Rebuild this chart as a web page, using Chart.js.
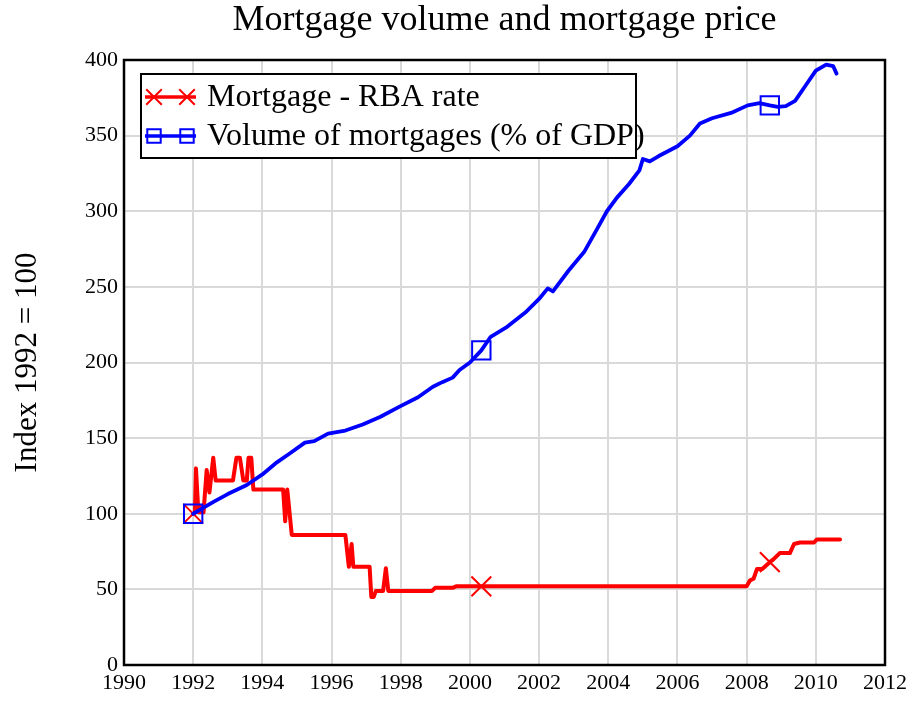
<!DOCTYPE html>
<html>
<head>
<meta charset="utf-8">
<script src="https://cdn.jsdelivr.net/npm/chart.js@4/dist/chart.umd.min.js"></script>
<style>
  html, body { margin: 0; padding: 0; background: #fff; }
  #wrap { width: 913px; height: 702px; }
</style>
</head>
<body>
<div id="wrap"><canvas id="myChart" width="913" height="702"></canvas></div>
<script>
// data (year, index 1992 = 100)
const rateYears = [1992, 1992.05, 1992.08, 1992.15, 1992.3, 1992.39, 1992.47, 1992.58, 1992.65,
  1993.15, 1993.25, 1993.35, 1993.45, 1993.55, 1993.6, 1993.68, 1993.74, 1994.6, 1994.66, 1994.72,
  1994.85, 1996.4, 1996.5, 1996.58, 1996.63, 1997.1, 1997.15, 1997.22, 1997.28, 1997.49, 1997.57,
  1997.64, 1998.9, 1999.0, 1999.5, 1999.6, 2000.33, 2008.0, 2008.1, 2008.2, 2008.3, 2008.45,
  2008.67, 2008.78, 2008.96, 2009.25, 2009.37, 2009.54, 2009.95, 2010.03, 2010.7];
const rateValues = [100, 101, 130, 101, 101, 129, 114, 137, 122,
  122, 137, 137, 122, 122, 137, 137, 116, 116, 95, 116,
  86, 86, 65, 80, 65, 65, 45, 45, 49, 49, 64,
  49, 49, 51, 51, 52, 52, 52, 56, 57, 63.5, 63.5,
  68, 70, 74, 74, 80, 81, 81, 83, 83];

const volumeYears = [1992, 1992.3, 1992.6, 1993, 1993.55, 1994, 1994.42, 1994.8, 1995.23, 1995.5,
  1995.9, 1996.4, 1996.9, 1997.4, 1997.98, 1998.5, 1998.93, 1999.2, 1999.5, 1999.7, 2000,
  2000.33, 2000.6, 2001.04, 2001.6, 2002, 2002.25, 2002.4, 2002.86, 2003.3, 2003.67, 2003.96,
  2004.25, 2004.6, 2004.9, 2005, 2005.2, 2005.46, 2006, 2006.36, 2006.65, 2007, 2007.55,
  2008.03, 2008.37, 2008.67, 2008.9, 2009.13, 2009.4, 2009.7, 2010, 2010.3, 2010.5, 2010.6];
const volumeValues = [100, 104, 108, 113, 119, 126, 134, 140, 147, 148,
  153, 155, 159, 164, 171, 177, 184, 187, 190, 195, 200,
  208, 217, 223, 233, 242, 249, 247, 261, 273, 288, 300,
  309, 318, 327, 334.5, 333, 336.5, 343, 350, 358, 361.5, 365,
  370, 371.5, 370, 369, 369.5, 373, 383, 393, 397, 396, 391];

const markerYears = [1992, 2000.33, 2008.67];

const chartTitle = 'Mortgage volume and mortgage price';
const yTitle = 'Index 1992 = 100';
const seriesNames = ['Mortgage - RBA rate', 'Volume of mortgages (% of GDP)'];

const serif = "'Liberation Serif', 'DejaVu Serif', serif";

function toPoints(xs, ys) {
  return xs.map((x, i) => ({ x: x, y: ys[i] }));
}

function markerRadius(r) {
  return function(ctx) {
    const p = ctx.raw;
    return p && markerYears.includes(p.x) ? r : 0;
  };
}

// title over the plot, frame round the plot and the boxed legend
const framePlugin = {
  id: 'frame',
  afterDraw(chart) {
    const ctx = chart.ctx;
    const a = chart.chartArea;
    ctx.save();

    ctx.fillStyle = '#000';
    ctx.font = '36px ' + serif;
    ctx.textAlign = 'center';
    ctx.textBaseline = 'middle';
    ctx.fillText(chartTitle, (a.left + a.right) / 2, 21);

    ctx.strokeStyle = '#000';
    ctx.lineWidth = 2.5;
    ctx.strokeRect(a.left, a.top, a.right - a.left, a.bottom - a.top);

    // legend box
    const bx = 141, by = 74, bw = 495, bh = 84;
    ctx.fillStyle = '#fff';
    ctx.fillRect(bx, by, bw, bh);
    ctx.lineWidth = 2;
    ctx.strokeRect(bx, by, bw, bh);

    const rows = [
      { y: 97, color: '#ff0000', style: 'crossRot', r: 11 },
      { y: 136, color: '#0000ff', style: 'rect', r: 9.5 }
    ];
    rows.forEach((row, i) => {
      ctx.strokeStyle = row.color;
      ctx.lineWidth = 3.5;
      ctx.beginPath();
      ctx.moveTo(145, row.y);
      ctx.lineTo(196, row.y);
      ctx.stroke();
      ctx.lineWidth = 2;
      ctx.fillStyle = 'rgba(0,0,0,0)';
      [154, 187].forEach(px => {
        Chart.helpers.drawPoint(ctx, { pointStyle: row.style, radius: row.r, rotation: 0, borderWidth: 2 }, px, row.y);
      });
      ctx.fillStyle = '#000';
      ctx.font = '32px ' + serif;
      ctx.textBaseline = 'middle';
      ctx.textAlign = 'left';
      ctx.fillText(seriesNames[i], 207, row.y + 1);
    });
    ctx.restore();
  }
};

const ctx = document.getElementById('myChart').getContext('2d');
const myChart = new Chart(ctx, {
  type: 'line',
  data: {
    datasets: [{
      label: seriesNames[0],
      data: toPoints(rateYears, rateValues),
      order: 1,
      borderColor: '#ff0000',
      backgroundColor: 'rgba(0,0,0,0)',
      borderWidth: 4,
      borderJoinStyle: 'round',
      borderCapStyle: 'round',
      pointStyle: 'crossRot',
      pointRadius: markerRadius(14),
      pointBorderWidth: 2,
      pointHoverRadius: 0,
      tension: 0
    }, {
      label: seriesNames[1],
      data: toPoints(volumeYears, volumeValues),
      order: 0,
      borderColor: '#0000ff',
      backgroundColor: 'rgba(0,0,0,0)',
      borderWidth: 3.8,
      borderJoinStyle: 'round',
      borderCapStyle: 'round',
      pointStyle: 'rect',
      pointRadius: markerRadius(13),
      pointBorderWidth: 2,
      pointHoverRadius: 0,
      tension: 0
    }]
  },
  options: {
    responsive: false,
    animation: false,
    layout: { padding: { top: 60, right: 28, left: 0, bottom: 0 } },
    plugins: {
      legend: { display: false },
      tooltip: { enabled: false },
      title: { display: false }
    },
    scales: {
      x: {
        type: 'linear',
        min: 1990,
        max: 2012,
        afterFit: s => { s.height = 37; },
        ticks: {
          stepSize: 2,
          color: '#000',
          padding: 5,
          maxRotation: 0,
          font: { family: serif, size: 22 },
          callback: v => String(v)
        },
        grid: { color: '#d9d9d9', lineWidth: 2, drawTicks: false },
        border: { display: false }
      },
      y: {
        min: 0,
        max: 400,
        afterFit: s => { s.width = 124; },
        ticks: {
          stepSize: 50,
          color: '#000',
          padding: 6,
          font: { family: serif, size: 22 }
        },
        grid: { color: '#d9d9d9', lineWidth: 2, drawTicks: false },
        border: { display: false },
        title: {
          display: true,
          text: yTitle,
          color: '#000',
          font: { family: serif, size: 31 },
          padding: { top: 9, bottom: 0 }
        }
      }
    }
  },
  plugins: [framePlugin]
});
</script>
</body>
</html>
